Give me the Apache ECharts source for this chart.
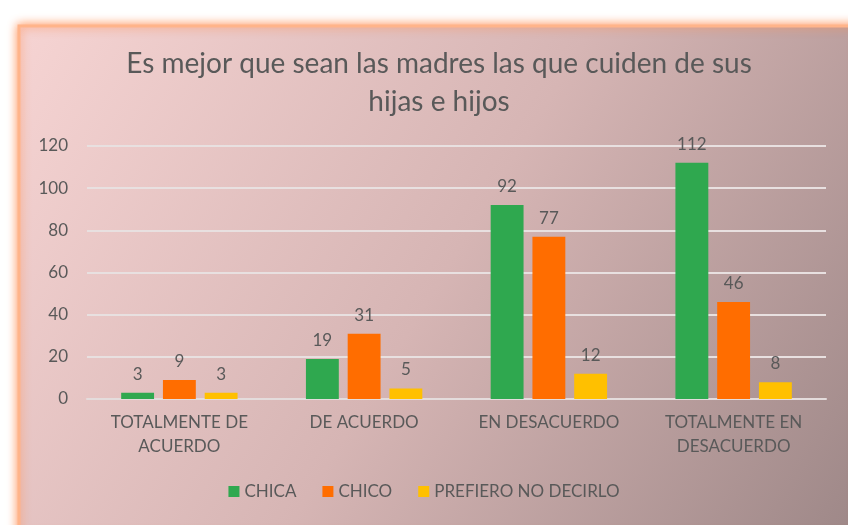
<!DOCTYPE html>
<html>
<head>
<meta charset="utf-8">
<script src="https://cdn.jsdelivr.net/npm/echarts@6/dist/echarts.min.js"></script>
<style>html,body{margin:0;padding:0;background:#fff}#c{width:848px;height:525px}</style>
</head>
<body>
<div id="c"></div>
<script>
const categories = ['TOTALMENTE DE\nACUERDO', 'DE ACUERDO', 'EN DESACUERDO', 'TOTALMENTE EN\nDESACUERDO'];
const seriesNames = ['CHICA', 'CHICO', 'PREFIERO NO DECIRLO'];
const chica = [3, 19, 92, 112];
const chico = [9, 31, 77, 46];
const prefiero = [3, 5, 12, 8];
const yTicks = [0, 20, 40, 60, 80, 100, 120];

const colors = ['#2fa84f', '#ff6d00', '#ffc000'];
const txt = '#595959';
const font = 'Lato';

const chart = echarts.init(document.getElementById('c'), null, {renderer: 'canvas'});
const lbl = {show: true, position: 'top', distance: 10, color: txt, fontFamily: font, fontSize: 17};
chart.setOption({
  backgroundColor: '#ffffff',
  animation: false,
  color: colors,
  graphic: [{
    type: 'rect', z: -10, silent: true,
    shape: {x: 19, y: 26, width: 840, height: 510},
    style: {
      fill: new echarts.graphic.LinearGradient(0, 0, 1, 1, [
        {offset: 0, color: '#f6d4d3'},
        {offset: 0.5, color: '#d6b5b4'},
        {offset: 1, color: '#9d8787'}
      ]),
      stroke: '#ffb48a', lineWidth: 3,
      shadowBlur: 10, shadowColor: 'rgba(255,140,80,0.9)'
    }
  }],
  title: {
    text: 'Es mejor que sean las madres las que cuiden de sus\nhijas e hijos',
    left: 434, textAlign: 'center', top: 40,
    textStyle: {color: txt, fontFamily: font, fontSize: 28, fontWeight: 'normal', lineHeight: 38}
  },
  legend: {
    data: seriesNames, bottom: 20, left: 'center',
    itemWidth: 11, itemHeight: 11, itemGap: 26, icon: 'rect',
    textStyle: {color: txt, fontFamily: font, fontSize: 17}
  },
  grid: {left: 87, right: 22, top: 146, bottom: 126, containLabel: false},
  xAxis: {
    type: 'category', data: categories,
    axisLine: {lineStyle: {color: '#e4dcdc', width: 2}},
    axisTick: {show: false},
    axisLabel: {color: txt, fontFamily: font, fontSize: 17, lineHeight: 24, margin: 12, interval: 0}
  },
  yAxis: {
    type: 'value', min: 0, max: 120, interval: 20,
    axisLine: {show: false}, axisTick: {show: false},
    axisLabel: {color: txt, fontFamily: font, fontSize: 17, margin: 19,
      formatter: v => yTicks.includes(v) ? String(v) : ''},
    splitLine: {lineStyle: {color: '#e8e0e0', width: 2}}
  },
  series: [
    {name: seriesNames[0], type: 'bar', data: chica, barGap: '27%', barCategoryGap: '37%', label: lbl},
    {name: seriesNames[1], type: 'bar', data: chico, label: lbl},
    {name: seriesNames[2], type: 'bar', data: prefiero, label: lbl}
  ]
});
</script>
</body>
</html>
